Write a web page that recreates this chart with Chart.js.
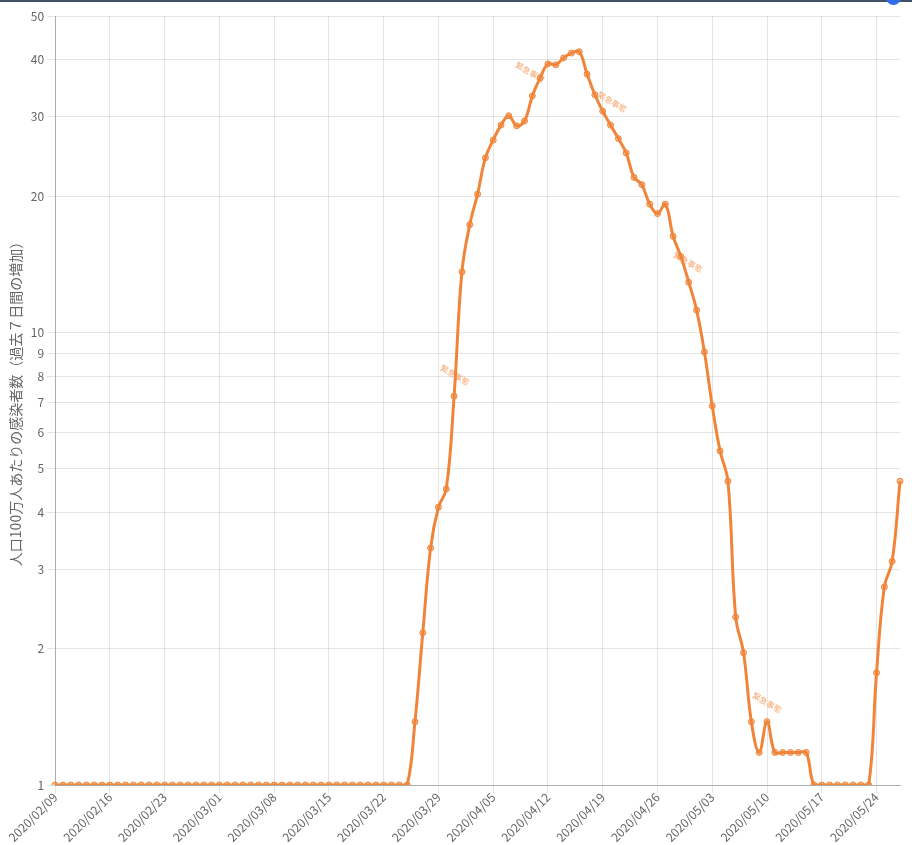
<!DOCTYPE html>
<html lang="ja">
<head>
<meta charset="utf-8">
<title>人口100万人あたりの感染者数</title>
<script src="https://cdn.jsdelivr.net/npm/chart.js@4/dist/chart.umd.min.js"></script>
<style>
  html, body { margin: 0; padding: 0; background: #fff; }
  #wrap { position: relative; width: 912px; height: 845px; overflow: hidden; }
  #bar { position: absolute; left: 0; top: 0; width: 912px; height: 2px; background: #3e5265; }
  #knob { position: absolute; left: 886px; top: -10px; width: 15px; height: 15px; border-radius: 50%; background: #2f6ee8; }
</style>
</head>
<body>
<div id="wrap">
  <canvas id="chart" width="912" height="845"></canvas>
  <div id="bar"></div>
  <div id="knob"></div>
</div>
<script>
// Dates: daily from 2020/02/09 to 2020/05/27
const startDate = new Date(2020, 1, 9);
const dayCount = 109;
const dateLabels = [];
for (let i = 0; i < dayCount; i++) {
  const d = new Date(startDate.getTime() + i * 86400000);
  const mm = String(d.getMonth() + 1).padStart(2, '0');
  const dd = String(d.getDate()).padStart(2, '0');
  dateLabels.push(`${d.getFullYear()}/${mm}/${dd}`);
}

// Cases per million (7-day increase)
const flatStart = new Array(46).fill(1);
const rising = [1.38, 2.17, 3.34, 4.11, 4.51, 7.23, 13.6, 17.3, 20.2, 24.3,
  26.6, 28.7, 30.1, 28.6, 29.3, 33.3, 36.5, 39.2, 39.0, 40.4, 41.4, 41.7];
const falling = [37.2, 33.5, 30.8, 28.7, 26.8, 24.9, 22.0, 21.2, 19.2, 18.3,
  19.2, 16.3, 14.7, 12.9, 11.2, 9.05, 6.88, 5.47, 4.69, 2.35, 1.96, 1.38,
  1.18, 1.38, 1.18, 1.18, 1.18, 1.18, 1.18];
const flatEnd = [1, 1, 1, 1, 1, 1, 1, 1];
const reboundValues = [1.77, 2.74, 3.12, 4.69];
const casesPerMillion = [...flatStart, ...rising, ...falling, ...flatEnd, ...reboundValues];

const yTicks = [1, 2, 3, 4, 5, 6, 7, 8, 9, 10, 20, 30, 40, 50];

// Small event notes: [date index, value]
const noteLabel = '緊急事態';
const noteIndex = [51.1, 60.7, 71.2, 80.9, 91.0];
const noteValue = [8.05, 37.6, 32.3, 14.3, 1.52];

const orange = 'rgb(240, 133, 58)';

const notesPlugin = {
  id: 'notes',
  afterDatasetsDraw(chart) {
    const { ctx, scales } = chart;
    ctx.save();
    ctx.font = '8px "Noto Sans CJK JP"';
    ctx.fillStyle = 'rgba(240, 133, 58, 0.75)';
    ctx.textAlign = 'center';
    ctx.textBaseline = 'middle';
    noteIndex.forEach((idx, n) => {
      const x = scales.x.getPixelForValue(idx);
      const y = scales.y.getPixelForValue(noteValue[n]);
      ctx.save();
      ctx.translate(x, y);
      ctx.rotate(Math.PI / 6);
      ctx.fillText(noteLabel, 0, 0);
      ctx.restore();
    });
    ctx.restore();
  }
};

const ctx = document.getElementById('chart').getContext('2d');
new Chart(ctx, {
  type: 'line',
  data: {
    labels: dateLabels,
    datasets: [{
      data: casesPerMillion,
      borderColor: orange,
      backgroundColor: 'rgba(240, 133, 58, 0.55)',
      pointBackgroundColor: 'rgba(240, 133, 58, 0.55)',
      pointBorderColor: orange,
      pointBorderWidth: 1,
      pointRadius: 3,
      borderWidth: 3,
      tension: 0.4,
      fill: false
    }]
  },
  options: {
    responsive: false,
    animation: false,
    layout: { padding: { top: 16, right: 12, left: 3, bottom: 0 } },
    plugins: {
      legend: { display: false },
      tooltip: { enabled: false }
    },
    scales: {
      x: {
        type: 'category',
        offset: false,
        afterFit: (scale) => { scale.height = 60; },
        grid: { color: 'rgba(0,0,0,0.1)' },
        border: { color: 'rgba(0,0,0,0.25)' },
        ticks: {
          autoSkip: false,
          maxRotation: 45,
          minRotation: 45,
          padding: -3,
          color: '#666',
          font: { family: '"Noto Sans CJK JP", "Noto Sans", sans-serif', size: 12 },
          callback: (value, index) => index % 7 === 0 ? dateLabels[index] : null
        }
      },
      y: {
        type: 'logarithmic',
        min: 1,
        max: 50,
        afterBuildTicks: (scale) => {
          scale.ticks = yTicks.map(v => ({ value: v }));
        },
        grid: { color: 'rgba(0,0,0,0.1)' },
        border: { color: 'rgba(0,0,0,0.25)' },
        ticks: {
          color: '#666',
          font: { family: '"Noto Sans CJK JP", "Noto Sans", sans-serif', size: 12 },
          callback: (value) => String(value)
        },
        title: {
          display: true,
          text: '人口100万人あたりの感染者数（過去７日間の増加）',
          color: '#666',
          font: { family: '"Noto Sans CJK JP", sans-serif', size: 14 }
        }
      }
    }
  },
  plugins: [notesPlugin]
});
</script>
</body>
</html>
